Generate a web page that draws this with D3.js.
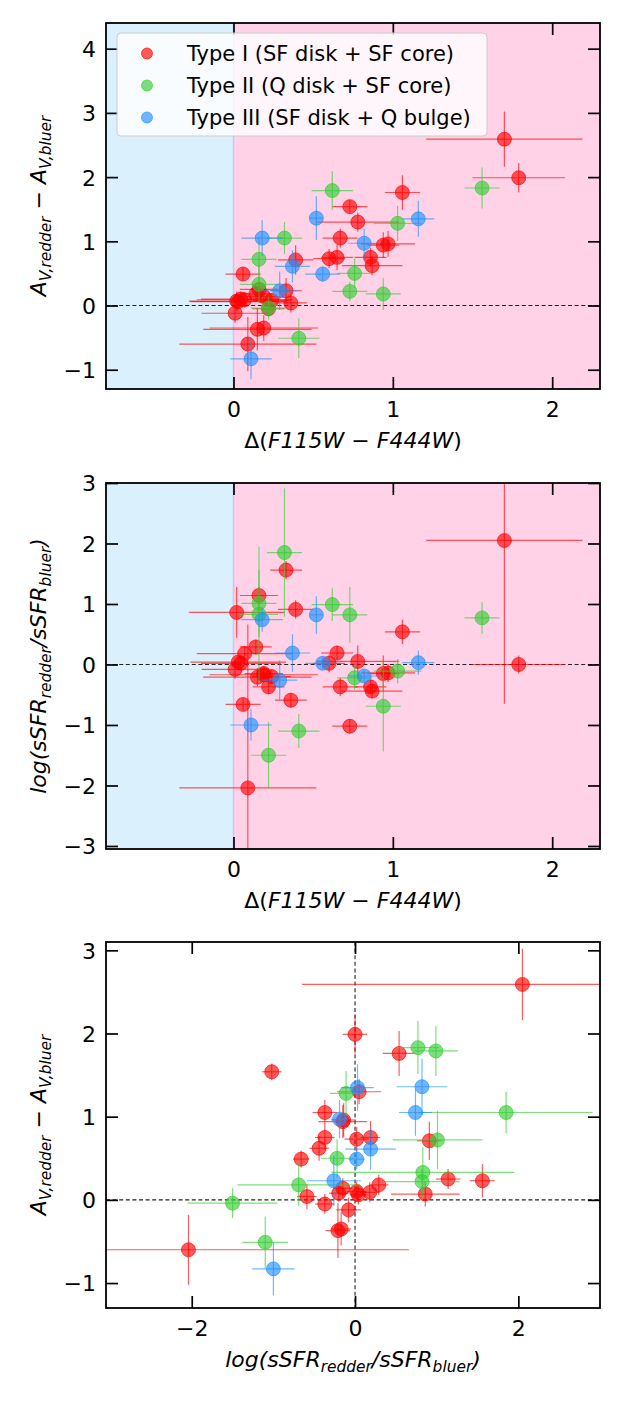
<!DOCTYPE html>
<html>
<head>
<meta charset="utf-8">
<script src="https://cdn.jsdelivr.net/npm/d3@7/dist/d3.min.js"></script>
<style>
  html, body { margin: 0; padding: 0; background: #fff; }
  svg { display: block; }
  text { font-family: 'DejaVu Sans', sans-serif; }
</style>
</head>
<body>
<svg id="chart" width="623" height="1401"></svg>
<script>
// ---------------- DATA ----------------
const typeNames = ["Type I (SF disk + SF core)", "Type II (Q disk + SF core)", "Type III (SF disk + Q bulge)"];
const typeColors = ["#ff0000", "#32cd32", "#1e90ff"];

// Type I
const t1_dColor    = [1.70,1.79,1.06,0.73,0.78,0.67,0.60,0.65,0.39,0.86,0.87,0.94,0.97,0.06,0.33,0.36,0.01,0.15,0.19,0.09,0.16,0.02,0.14,0.22,0.03,0.07,0.19,0.24,0.046];
const t1_dColorErr = [0.49,0.29,0.11,0.11,0.26,0.11,0.10,0.10,0.11,0.10,0.19,0.10,0.17,0.11,0.10,0.10,0.21,0.34,0.34,0.43,0.12,0.30,0.10,0.10,0.30,0.30,0.12,0.12,0.25];
const t1_dAv       = [2.59,1.99,1.76,1.54,1.30,1.05,0.73,0.75,0.71,0.75,0.62,0.94,0.96,0.49,0.23,0.04,-0.12,-0.37,-0.35,-0.60,0.25,0.07,0.18,-0.05,0.06,0.09,0.14,0.08,0.10];
const t1_dAvErr    = [0.43,0.23,0.27,0.10,0.15,0.15,0.15,0.20,0.23,0.15,0.15,0.20,0.20,0.10,0.20,0.15,0.15,0.33,0.20,0.42,0.12,0.15,0.12,0.12,0.12,0.12,0.12,0.10,0.12];
const t1_dSSFR     = [2.05,0.00,0.54,-1.02,0.05,-0.37,0.02,0.19,0.91,-0.37,-0.44,-0.15,-0.14,-0.66,1.56,-0.59,-0.08,-0.21,-0.17,-2.04,1.14,0.86,0.29,-0.37,0.04,0.18,-0.15,-0.20,0.02];
const t1_dSSFRErr  = [2.70,0.15,0.20,0.12,0.27,0.15,0.15,0.12,0.15,0.12,0.12,0.30,0.15,0.10,0.15,0.12,0.15,0.15,0.12,2.70,0.15,0.42,0.12,0.12,0.10,0.12,0.12,0.12,0.12];

// Type II
const t2_dColor    = [1.56,0.62,1.03,0.32,0.16,0.16,0.22,0.76,0.73,0.94,0.41];
const t2_dColorErr = [0.11,0.13,0.15,0.11,0.11,0.12,0.11,0.11,0.11,0.11,0.13];
const t2_dAv       = [1.83,1.79,1.28,1.05,0.72,0.33,-0.04,0.50,0.22,0.18,-0.51];
const t2_dAvErr    = [0.32,0.30,0.27,0.25,0.35,0.30,0.18,0.23,0.15,0.25,0.31];
const t2_dSSFR     = [0.77,0.99,-0.11,1.85,1.01,0.83,-1.50,-0.22,0.82,-0.69,-1.10];
const t2_dSSFRErr  = [0.26,0.27,0.20,1.06,0.55,1.12,0.55,0.20,0.46,0.75,0.28];

// Type III
const t3_dColor    = [1.16,0.52,0.18,0.82,0.37,0.56,0.29,0.11];
const t3_dColorErr = [0.10,0.04,0.13,0.10,0.11,0.11,0.11,0.13];
const t3_dAv       = [1.35,1.36,1.05,0.97,0.61,0.49,0.23,-0.83];
const t3_dAvErr    = [0.28,0.34,0.28,0.23,0.25,0.12,0.30,0.32];
const t3_dSSFR     = [0.03,0.82,0.74,-0.19,0.19,0.02,-0.26,-1.00];
const t3_dSSFRErr  = [0.20,0.31,0.20,0.10,0.31,0.10,0.33,0.26];

// Axis ticks
const p1_xTicks = [0, 1, 2];
const p1_yTicks = [-1, 0, 1, 2, 3, 4];
const p2_yTicks = [-3, -2, -1, 0, 1, 2, 3];
const p3_xTicks = [-2, 0, 2];
const p3_yTicks = [-1, 0, 1, 2, 3];

// ---------------- BUILD ----------------
function makeType(dc, dce, av, ave, ss, sse) {
  return dc.map((d, i) => ({ dc: d, dcErr: dce[i], av: av[i], avErr: ave[i], ss: ss[i], ssErr: sse[i] }));
}
const groups = [
  makeType(t1_dColor, t1_dColorErr, t1_dAv, t1_dAvErr, t1_dSSFR, t1_dSSFRErr),
  makeType(t2_dColor, t2_dColorErr, t2_dAv, t2_dAvErr, t2_dSSFR, t2_dSSFRErr),
  makeType(t3_dColor, t3_dColorErr, t3_dAv, t3_dAvErr, t3_dSSFR, t3_dSSFRErr)
];

const svg = d3.select("#chart");
const L = 106, R = 600;
const FS = 21, TFS = 22;
const ALPHA = 0.64;

function panel(cfg) {
  const { top, bottom, xDom, yDom, xTicks, yTicks, xKey, yKey, spans, vline } = cfg;
  const x = d3.scaleLinear().domain(xDom).range([L, R]);
  const y = d3.scaleLinear().domain(yDom).range([bottom, top]);
  const g = svg.append("g");
  const clipId = "clip" + top;
  svg.append("clipPath").attr("id", clipId).append("rect")
    .attr("x", L).attr("y", top).attr("width", R - L).attr("height", bottom - top);
  const inner = g.append("g").attr("clip-path", `url(#${clipId})`);

  if (spans) {
    inner.append("rect").attr("x", x(xDom[0])).attr("y", top)
      .attr("width", x(0) - x(xDom[0])).attr("height", bottom - top)
      .attr("fill", "#87cefa").attr("fill-opacity", 0.3);
    inner.append("rect").attr("x", x(0)).attr("y", top)
      .attr("width", x(xDom[1]) - x(0)).attr("height", bottom - top)
      .attr("fill", "#ff69b4").attr("fill-opacity", 0.3);
    inner.append("line").attr("x1", x(0)).attr("x2", x(0)).attr("y1", top).attr("y2", bottom)
      .attr("stroke", "#b9b4e6").attr("stroke-opacity", 0.6).attr("stroke-width", 1.5);
  }
  // dashed zero lines
  inner.append("line").attr("x1", L).attr("x2", R).attr("y1", y(0)).attr("y2", y(0))
    .attr("stroke", "#222").attr("stroke-width", 1.1).attr("stroke-dasharray", "4,2.6");
  if (vline) {
    inner.append("line").attr("x1", x(0)).attr("x2", x(0)).attr("y1", top).attr("y2", bottom)
      .attr("stroke", "#222").attr("stroke-width", 1.1).attr("stroke-dasharray", "4,2.6");
  }

  // points
  groups.forEach((data, gi) => {
    const col = typeColors[gi];
    const pg = inner.append("g");
    data.forEach(d => {
      const px = x(d[xKey]), py = y(d[yKey]);
      const ex = d[xKey + "Err"], ey = d[yKey + "Err"];
      pg.append("line").attr("x1", x(d[xKey] - ex)).attr("x2", x(d[xKey] + ex))
        .attr("y1", py).attr("y2", py)
        .attr("stroke", col).attr("stroke-opacity", ALPHA).attr("stroke-width", 1.2);
      pg.append("line").attr("x1", px).attr("x2", px)
        .attr("y1", y(d[yKey] - ey)).attr("y2", y(d[yKey] + ey))
        .attr("stroke", col).attr("stroke-opacity", ALPHA).attr("stroke-width", 1.2);
      pg.append("circle").attr("cx", px).attr("cy", py).attr("r", 7)
        .attr("fill", col).attr("fill-opacity", ALPHA)
        .attr("stroke", col).attr("stroke-opacity", ALPHA).attr("stroke-width", 1);
    });
  });

  // axes
  const tk = 12;
  const axB = g.append("g").attr("transform", `translate(0,${bottom})`)
    .call(d3.axisBottom(x).tickValues(xTicks).tickSize(-tk).tickPadding(12).tickFormat(d3.format("d")));
  const axT = g.append("g").attr("transform", `translate(0,${top})`)
    .call(d3.axisTop(x).tickValues(xTicks).tickSize(-tk).tickFormat(""));
  const axL = g.append("g").attr("transform", `translate(${L},0)`)
    .call(d3.axisLeft(y).tickValues(yTicks).tickSize(-tk).tickPadding(10).tickFormat(d3.format("d")));
  const axR = g.append("g").attr("transform", `translate(${R},0)`)
    .call(d3.axisRight(y).tickValues(yTicks).tickSize(-tk).tickFormat(""));
  [axB, axT, axL, axR].forEach(a => {
    a.select(".domain").remove();
    a.selectAll(".tick line").attr("stroke", "#000").attr("stroke-width", 1.7);
    a.selectAll("text").attr("font-size", TFS).attr("fill", "#000")
      .attr("font-family", "'DejaVu Sans', sans-serif");
  });
  axL.selectAll("text").attr("dy", "0.36em");
  // frame
  g.append("rect").attr("x", L).attr("y", top).attr("width", R - L).attr("height", bottom - top)
    .attr("fill", "none").attr("stroke", "#000").attr("stroke-width", 1.8);
  return g;
}

panel({ top: 23, bottom: 389, xDom: [-0.8, 2.3], yDom: [-1.3, 4.4], xTicks: p1_xTicks, yTicks: p1_yTicks, xKey: "dc", yKey: "av", spans: true });
panel({ top: 483, bottom: 849, xDom: [-0.8, 2.3], yDom: [-3.05, 3.0], xTicks: p1_xTicks, yTicks: p2_yTicks, xKey: "dc", yKey: "ss", spans: true });
panel({ top: 942, bottom: 1308, xDom: [-3.05, 3.0], yDom: [-1.3, 3.1], xTicks: p3_xTicks, yTicks: p3_yTicks, xKey: "ss", yKey: "av", spans: false, vline: true });

// ---------------- LABELS ----------------
const SUB = 0.7 * TFS, SH = 5;
function xLabelColor(yb) {
  const t = svg.append("text").attr("x", (L + R) / 2).attr("y", yb).attr("text-anchor", "middle")
    .attr("font-size", TFS).attr("fill", "#000");
  t.append("tspan").text("Δ(");
  t.append("tspan").attr("font-style", "italic").text("F115W");
  t.append("tspan").text(" − ");
  t.append("tspan").attr("font-style", "italic").text("F444W");
  t.append("tspan").text(")");
}
function ssfrParts(t) {
  t.append("tspan").text("log(sSFR");
  t.append("tspan").attr("font-size", SUB).attr("dy", SH).text("redder");
  t.append("tspan").attr("dy", -SH).text("/sSFR");
  t.append("tspan").attr("font-size", SUB).attr("dy", SH).text("bluer");
  t.append("tspan").attr("dy", -SH).text(")");
}
function avParts(t) {
  t.append("tspan").attr("font-style", "italic").text("A");
  t.append("tspan").attr("font-style", "italic").attr("font-size", SUB).attr("dy", SH).text("V,redder");
  t.append("tspan").attr("dy", -SH).attr("font-style", "normal").text(" − ");
  t.append("tspan").attr("font-style", "italic").text("A");
  t.append("tspan").attr("font-style", "italic").attr("font-size", SUB).attr("dy", SH).text("V,bluer");
}
xLabelColor(448);
xLabelColor(908);
{
  const t = svg.append("text").attr("x", (L + R) / 2).attr("y", 1367).attr("text-anchor", "middle")
    .attr("font-size", TFS).attr("font-style", "italic").attr("fill", "#000");
  ssfrParts(t);
}
function yLabel(cy, fn, italic) {
  const t = svg.append("text").attr("transform", `translate(46,${cy}) rotate(-90)`)
    .attr("text-anchor", "middle").attr("font-size", TFS).attr("fill", "#000");
  if (italic) t.attr("font-style", "italic");
  fn(t);
}
yLabel((23 + 389) / 2, avParts, false);
yLabel((483 + 849) / 2, ssfrParts, true);
yLabel((942 + 1308) / 2, avParts, false);

// ---------------- LEGEND ----------------
const leg = svg.append("g");
leg.append("rect").attr("x", 117).attr("y", 33).attr("width", 370).attr("height", 103).attr("rx", 4)
  .attr("fill", "#fff").attr("fill-opacity", 0.8).attr("stroke", "#cccccc").attr("stroke-width", 1);
typeNames.forEach((name, i) => {
  const cy = 53.5 + i * 32;
  leg.append("circle").attr("cx", 147).attr("cy", cy).attr("r", 5.5)
    .attr("fill", typeColors[i]).attr("fill-opacity", ALPHA)
    .attr("stroke", typeColors[i]).attr("stroke-opacity", ALPHA).attr("stroke-width", 1);
  leg.append("text").attr("x", 187).attr("y", cy).attr("dy", "0.36em")
    .attr("font-size", FS).attr("fill", "#000").text(name);
});
</script>
</body>
</html>
